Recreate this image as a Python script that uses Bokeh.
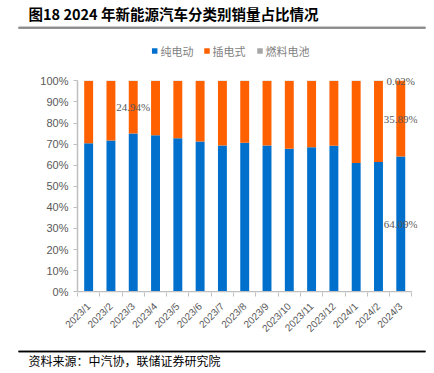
from bokeh.plotting import figure
from bokeh.models import (ColumnDataSource, FixedTicker, PrintfTickFormatter,
                          LabelSet, Range1d, BoxAnnotation)
from bokeh.layouts import column, row
from bokeh.core.properties import value
from bokeh.embed import file_html
from bokeh.resources import INLINE
from math import pi

months = ["2023/1", "2023/2", "2023/3", "2023/4", "2023/5", "2023/6", "2023/7", "2023/8",
          "2023/9", "2023/10", "2023/11", "2023/12", "2024/1", "2024/2", "2024/3"]
bev = [70.4, 71.7, 75.0, 74.2, 72.8, 71.2, 69.3, 70.6, 69.3, 67.8, 68.5, 69.2, 61.0, 61.5, 64.09]
fcv = [0.05, 0.05, 0.06, 0.05, 0.05, 0.05, 0.05, 0.05, 0.05, 0.05, 0.05, 0.05, 0.03, 0.03, 0.02]
phev = [round(100 - b - f, 2) for b, f in zip(bev, fcv)]
phev[2] = 24.94
names = ["纯电动", "插电式", "燃料电池"]
colors = ["#0070CC", "#FF6000", "#A6A6A6"]
title_text = "图18 2024 年新能源汽车分类别销量占比情况"
source_text = "资料来源：中汽协，联储证券研究院"
yticks = [0, 10, 20, 30, 40, 50, 60, 70, 80, 90, 100]

W = 426
CJK = value("Noto Sans CJK SC")

# ---------------- header (y measured downward from its top: yy = HH - px) ----------------
HH = 70
hdr = figure(width=W, height=HH, output_backend="svg", toolbar_location=None,
             x_range=Range1d(0, W), y_range=Range1d(0, HH),
             x_axis_location=None, y_axis_location=None, min_border=0)
hdr.outline_line_color = None
hdr.grid.grid_line_color = None
hdr.text(x=[28], y=[HH - 13], text=[title_text], text_font=CJK, text_font_style="bold",
         text_font_size="14.5px", text_color="#000000", text_baseline="middle",
         text_align="left")
hdr.add_layout(BoxAnnotation(left=18, right=425, bottom=HH - 28.3, top=HH - 26.3,
                             fill_color="#8C8C8C", fill_alpha=1.0, line_color=None,
                             level="overlay"))
hdr.hbar(y=[HH - 27.3], left=[18], right=[425], height=2, fill_color="#8C8C8C",
         line_color=None)
leg_sq = [154.2, 206.5, 259.5]
leg_tx = [160, 212, 265]
hdr.rect(x=leg_sq, y=[HH - 50.5] * 3, width=5.5, height=5.5, fill_color=colors, line_color=None)
hdr.text(x=leg_tx, y=[HH - 50.5] * 3, text=names, text_font=CJK, text_font_size="11px",
         text_color="#7F7F7F", text_baseline="middle", text_align="left")

# ---------------- main chart ----------------
n = len(months)
MH = 270
p = figure(width=W, height=MH, output_backend="svg", toolbar_location=None,
           x_range=Range1d(0, n + 0.25), y_range=Range1d(-0.35, 103),
           min_border_left=77, min_border_right=9, min_border_top=4, min_border_bottom=47)
p.outline_line_color = None
p.grid.grid_line_color = None

xs = [i + 0.5 for i in range(n)]
p_top = [b + q for b, q in zip(bev, phev)]
f_top = [a + f for a, f in zip(p_top, fcv)]
src = ColumnDataSource(dict(x=xs, b0=[0] * n, b1=bev, p1=p_top, f1=f_top))
p.vbar(x="x", width=0.4, bottom="b0", top="b1", source=src, fill_color=colors[0], line_color=None)
p.vbar(x="x", width=0.4, bottom="b1", top="p1", source=src, fill_color=colors[1], line_color=None)
p.vbar(x="x", width=0.4, bottom="p1", top="f1", source=src, fill_color=colors[2], line_color=None)

# x axis line drawn over the data extent
p.line(x=[0, n], y=[0, 0], line_color="#BFBFBF", line_width=1.5)

# data labels
lx = [xs[2], xs[-1], xs[-1], xs[-1]]
ly = [bev[2] + phev[2] / 2, bev[-1] / 2, bev[-1] + phev[-1] / 2, p_top[-1] + fcv[-1] / 2]
lt = ["%.2f%%" % phev[2], "%.2f%%" % bev[-1], "%.2f%%" % phev[-1], "%.2f%%" % fcv[-1]]
lsrc = ColumnDataSource(dict(x=lx, y=ly, t=lt))
p.add_layout(LabelSet(x="x", y="y", text="t", source=lsrc, text_align="center",
                      text_baseline="middle", text_font_size="11px", text_color="#595959",
                      text_font="Liberation Sans"))

xa = p.xaxis[0]
xa.ticker = FixedTicker(ticks=xs, minor_ticks=list(range(n + 1)))
xa.major_label_overrides = {x: m for x, m in zip(xs, months)}
xa.major_label_orientation = pi / 4
xa.major_tick_line_color = None
xa.minor_tick_line_color = "#BFBFBF"
xa.minor_tick_out = 4
xa.minor_tick_in = 0
xa.axis_line_color = None
xa.major_label_text_font = "Liberation Sans"
xa.major_label_text_font_size = "10px"
xa.major_label_text_color = "#595959"
xa.major_label_standoff = 6

ya = p.yaxis[0]
ya.ticker = FixedTicker(ticks=yticks)
ya.bounds = (0, 100)
ya.formatter = PrintfTickFormatter(format="%d%%")
ya.minor_tick_line_color = None
ya.major_tick_line_color = "#BFBFBF"
ya.major_tick_out = 4
ya.major_tick_in = 0
ya.axis_line_color = "#BFBFBF"
ya.axis_line_width = 1.5
ya.major_label_text_font = "Liberation Sans"
ya.major_label_text_font_size = "11px"
ya.major_label_text_color = "#595959"
ya.major_label_standoff = 5

# ---------------- footer ----------------
FH = 33
ftr = figure(width=W, height=FH, output_backend="svg", toolbar_location=None,
             x_range=Range1d(0, W), y_range=Range1d(0, FH),
             x_axis_location=None, y_axis_location=None, min_border=0)
ftr.outline_line_color = None
ftr.grid.grid_line_color = None
ftr.add_layout(BoxAnnotation(left=18, right=425, bottom=FH - 11.7, top=FH - 10.3,
                             fill_color="#000000", fill_alpha=1.0, line_color=None,
                             level="overlay"))
ftr.hbar(y=[FH - 11], left=[18], right=[425], height=1.4, fill_color="#000000",
         line_color=None)
ftr.text(x=[28], y=[FH - 19.5], text=[source_text], text_font=CJK, text_font_size="12px",
         text_color="#000000", text_baseline="middle", text_align="left")

layout = column(row(hdr), row(p), row(ftr), spacing=0)
open("out.html", "w").write(file_html(layout, INLINE))
